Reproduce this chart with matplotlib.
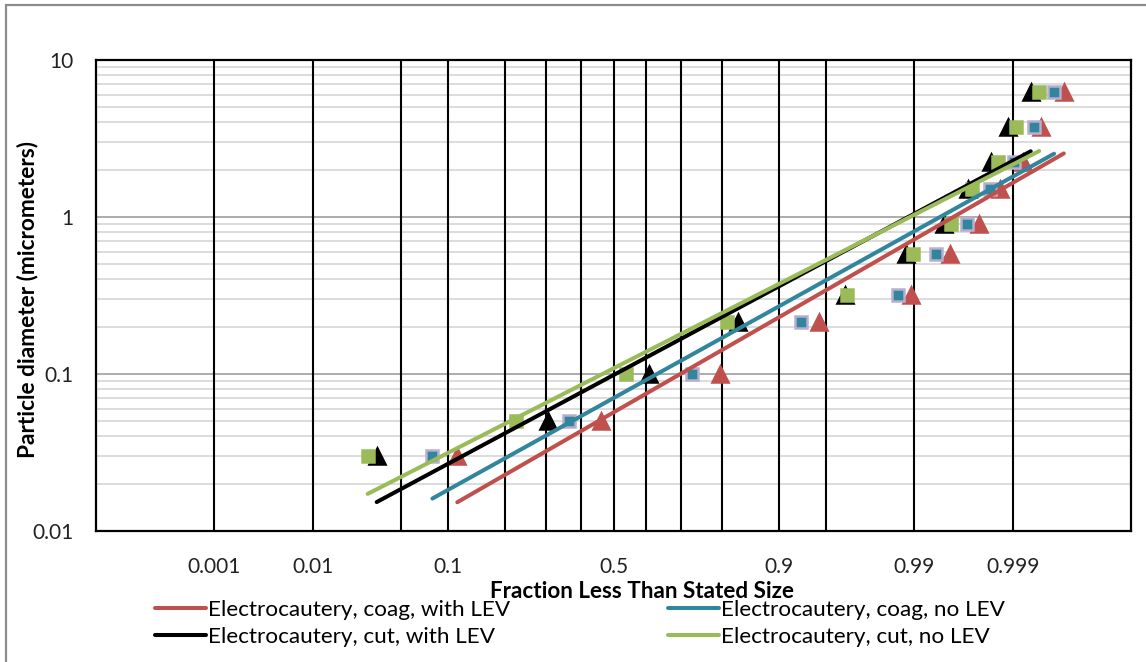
from statistics import NormalDist
import matplotlib
matplotlib.use('Agg')
import matplotlib.pyplot as plt
import numpy as np
from matplotlib.patches import Rectangle
from matplotlib.ticker import LogLocator, NullFormatter

plt.rcParams['font.family'] = ['Lato', 'DejaVu Sans']

# particle diameters (micrometers)
sizes = [0.03, 0.05, 0.1, 0.215, 0.32, 0.58, 0.9, 1.5, 2.25, 3.75, 6.25]

# cumulative fraction less than stated size, per series
coag_lev = [0.1136, 0.463, 0.795, 0.944, 0.9893, 0.99534, 0.99762, 0.99861, 0.99922, 0.99953, 0.99975]
coag_nolev = [0.0808, 0.3647, 0.728, 0.926, 0.9861, 0.99365, 0.99684, 0.99818, 0.99901, 0.99942, 0.99967]
cut_lev = [0.0336, 0.3058, 0.609, 0.832, 0.9634, 0.9881, 0.99467, 0.99691, 0.99822, 0.99884, 0.99937]
cut_nolev = [0.0287, 0.2255, 0.540, 0.810, 0.9647, 0.9897, 0.99545, 0.99719, 0.99851, 0.99906, 0.99950]

grid_p = [0.001, 0.01, 0.05, 0.1, 0.2, 0.3, 0.4, 0.5, 0.6, 0.7, 0.8, 0.9, 0.95, 0.99, 0.999]
label_p = ['0.001', '0.01', '0.1', '0.5', '0.9', '0.99', '0.999']

nd = NormalDist()
probit = lambda p: np.array([nd.inv_cdf(v) for v in p])

fig = plt.figure(figsize=(11.46, 6.62), dpi=100)
W, H = 1146, 662
ax = fig.add_axes([96 / W, 1 - 531 / H, (1131 - 96) / W, (531 - 60) / H])

# outer chart border (cut off at right and bottom)
fig.patches.append(Rectangle((6 / W, -0.1), 1.2, 1 - 5 / H + 0.1, transform=fig.transFigure,
                             fill=False, edgecolor='#8c8c8c', lw=1.6))

series = [
    ('Electrocautery, coag, with LEV', coag_lev, '#c0504d', '^', '#c0504d', 11),
    ('Electrocautery, coag, no LEV', coag_nolev, '#31859c', 's', '#b7aed0', 9),
    ('Electrocautery, cut, with LEV', cut_lev, 'black', '^', 'black', 11),
    ('Electrocautery, cut, no LEV', cut_nolev, '#9bbb59', 's', '#9bbb59', 9),
]

handles = []
for i, (name, frac, col, mk, edge, ms) in enumerate(series):
    z = probit(frac)
    ly = np.log10(sizes)
    ax.plot(z, sizes, ls='none', marker=mk, ms=ms, color=col, mec=edge, mew=1.8, zorder=3 + i)
    a, b = np.polyfit(z, ly, 1)
    zz = np.array([z.min(), z.max()])
    h, = ax.plot(zz, 10 ** (a * zz + b), color=col, lw=2.9, solid_capstyle='round', zorder=7 + i,
                 label=name)
    handles.append(h)

ax.set_yscale('log')
ax.set_ylim(0.01, 10)
ax.set_xlim(-4, 4)

ax.yaxis.set_major_locator(LogLocator(base=10))
ax.yaxis.set_minor_locator(LogLocator(base=10, subs=np.arange(2, 10)))
ax.yaxis.set_minor_formatter(NullFormatter())
ax.set_yticks([0.01, 0.1, 1, 10])
ax.set_yticklabels(['0.01', '0.1', '1', '10'])
ax.grid(axis='y', which='major', color='#a6a6a6', lw=1.3)
ax.grid(axis='y', which='minor', color='#d9d9d9', lw=1.3)

for p in grid_p:
    ax.axvline(nd.inv_cdf(p), color='black', lw=1.5, zorder=2)

ax.set_xticks(probit([float(s) for s in label_p]))
ax.set_xticklabels(label_p)
ax.tick_params(axis='both', which='both', length=0, labelsize=15, colors='#222222')
ax.tick_params(axis='x', pad=19)
ax.tick_params(axis='y', pad=16)
ax.set_axisbelow(True)

for s in ax.spines.values():
    s.set_linewidth(1.6)
    s.set_color('black')
    s.set_zorder(12)

fig.text(28 / W, 1 - 300 / H, 'Particle diameter (micrometers)', rotation=90, fontsize=16.3,
         fontweight='bold', ha='center', va='center')
fig.text(642 / W, 1 - 591 / H, 'Fraction Less Than Stated Size', fontsize=16.2,
         fontweight='bold', ha='center', va='center')

kw = dict(frameon=False, fontsize=16.2, handlelength=2.25, handletextpad=0.12, labelspacing=0.3,
          borderpad=0, borderaxespad=0, loc='upper left')
fig.legend([handles[0], handles[2]], [handles[0].get_label(), handles[2].get_label()],
           bbox_to_anchor=(155 / W, 1 - 600 / H), **kw)
fig.legend([handles[1], handles[3]], [handles[1].get_label(), handles[3].get_label()],
           bbox_to_anchor=(668 / W, 1 - 600 / H), **kw)

fig.savefig('out.png', dpi=100)
